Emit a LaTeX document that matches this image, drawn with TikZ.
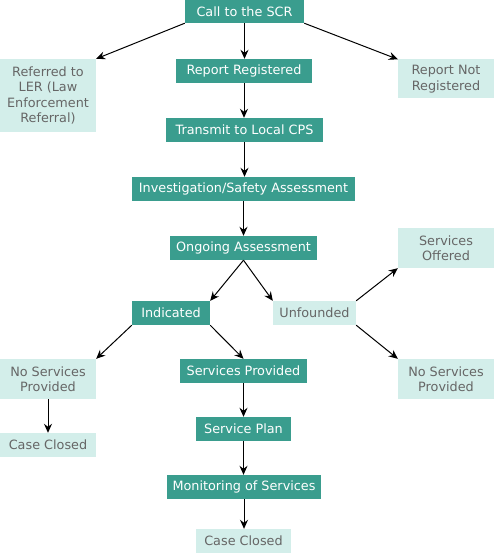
\documentclass[tikz,border=0pt]{standalone}
\usepackage{fontspec}
\setmainfont{DejaVu Sans}
\usetikzlibrary{arrows.meta}
\definecolor{teal1}{HTML}{3A9D8E}
\definecolor{lightteal}{HTML}{D3EEEA}
\definecolor{graytext}{HTML}{666666}
\tikzset{
  darkbox/.style={fill=teal1,text=white,inner sep=0pt,align=center,font=\fontsize{12.8}{15.5}\selectfont},
  lightbox/.style={fill=lightteal,text=graytext,inner sep=0pt,align=center,font=\fontsize{12.8}{15.5}\selectfont},
  conn/.style={line width=1pt,-{Stealth[length=9pt,width=8pt,inset=3pt]}}
}
\begin{document}
\begin{tikzpicture}[x=1pt,y=-1pt]
\useasboundingbox (0,0) rectangle (494,553);
\node[darkbox,minimum width=119pt,minimum height=23pt] (call) at (244.5,11.5) {Call to the SCR};
\node[lightbox,minimum width=96pt,minimum height=73pt] (ler) at (48,95.5) {Referred to\\LER (Law\\Enforcement\\Referral)};
\node[darkbox,minimum width=136pt,minimum height=24pt] (reg) at (244,71) {Report Registered};
\node[lightbox,minimum width=96pt,minimum height=39pt] (notreg) at (446,79) {Report Not\\Registered};
\node[darkbox,minimum width=157pt,minimum height=24pt] (cps) at (244.5,130) {Transmit to Local CPS};
\node[darkbox,minimum width=223pt,minimum height=24pt] (inv) at (243.5,189) {Investigation/Safety Assessment};
\node[darkbox,minimum width=147pt,minimum height=24pt] (ong) at (243.5,248) {Ongoing Assessment};
\node[lightbox,minimum width=96pt,minimum height=40pt] (offered) at (446,248) {Services\\Offered};
\node[darkbox,minimum width=78pt,minimum height=24pt] (ind) at (171,313) {Indicated};
\node[lightbox,minimum width=83pt,minimum height=24pt] (unf) at (314.5,313) {Unfounded};
\node[lightbox,minimum width=96pt,minimum height=40pt] (nsl) at (48,379) {No Services\\Provided};
\node[darkbox,minimum width=127pt,minimum height=24pt] (sp) at (243.5,371) {Services Provided};
\node[lightbox,minimum width=96pt,minimum height=40pt] (nsr) at (446,379) {No Services\\Provided};
\node[lightbox,minimum width=96pt,minimum height=24pt] (ccl) at (48,445) {Case Closed};
\node[darkbox,minimum width=95pt,minimum height=24pt] (plan) at (243.5,429) {Service Plan};
\node[darkbox,minimum width=154pt,minimum height=24pt] (mon) at (244,487) {Monitoring of Services};
\node[lightbox,minimum width=95pt,minimum height=24pt] (ccb) at (243.5,541) {Case Closed};
\draw[conn] (call.south west) -- (ler.north east);
\draw[conn] (call.south) -- (call.south |- reg.north);
\draw[conn] (call.south east) -- (notreg.north west);
\draw[conn] (reg.south) -- (reg.south |- cps.north);
\draw[conn] (cps.south) -- (cps.south |- inv.north);
\draw[conn] (inv.south) -- (inv.south |- ong.north);
\draw[conn] (ong.south) -- (ind.north east);
\draw[conn] (ong.south) -- (unf.north west);
\draw[conn] (ind.south west) -- (nsl.north east);
\draw[conn] (ind.south east) -- (sp.north);
\draw[conn] (unf.north east) -- (offered.south west);
\draw[conn] (unf.south east) -- (nsr.north west);
\draw[conn] (nsl.south) -- (nsl.south |- ccl.north);
\draw[conn] (sp.south) -- (sp.south |- plan.north);
\draw[conn] (plan.south) -- (plan.south |- mon.north);
\draw[conn] (mon.south) -- (mon.south |- ccb.north);
\end{tikzpicture}
\end{document}
